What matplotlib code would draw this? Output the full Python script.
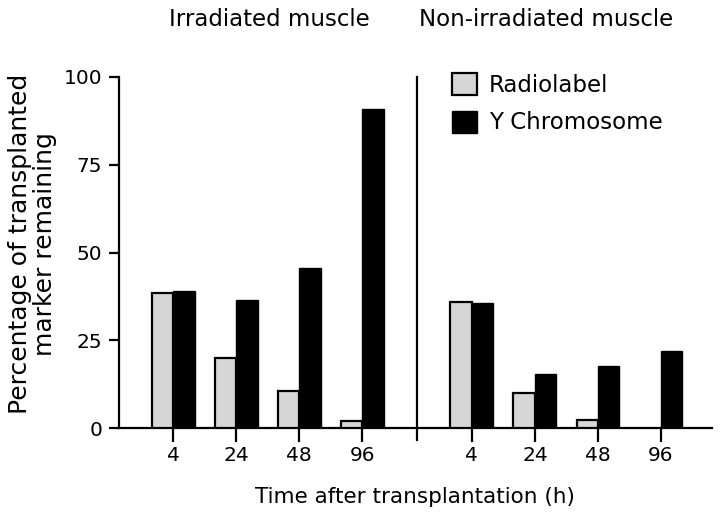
import matplotlib
matplotlib.use("Agg")
import matplotlib.pyplot as plt
import numpy as np
from matplotlib.patches import Patch

# ---- data ----
times = ["4", "24", "48", "96"]
irr_radiolabel = [38.5, 20.0, 10.5, 2.0]
irr_ychrom = [39.0, 36.5, 45.5, 90.8]
non_radiolabel = [35.8, 10.0, 2.2, 0.0]
non_ychrom = [35.5, 15.3, 17.6, 22.0]
yticks = [0, 25, 50, 75, 100]
panel_titles = ["Irradiated muscle", "Non-irradiated muscle"]
series_names = ["Radiolabel", "Y Chromosome"]
xlabel = "Time after transplantation (h)"
ylabel = "Percentage of transplanted\nmarker remaining"

plt.rcParams['font.family'] = ['DejaVu Sans']

fig = plt.figure(figsize=(7.2, 5.14), dpi=100)
ax = fig.add_axes([119/720, 1-428/514, (712-119)/720, (428-77)/514])

grey = '#d6d6d6'
w = 0.34
offset_right = 4.74
x_left = np.arange(len(times))
x_right = x_left + offset_right

for xs, rad, yc in [(x_left, irr_radiolabel, irr_ychrom), (x_right, non_radiolabel, non_ychrom)]:
    for xi, r in zip(xs, rad):
        if r > 0:
            ax.bar(xi - w/2, r, width=w, color=grey, edgecolor='black', linewidth=1.6, zorder=3)
    ax.bar(xs + w/2, yc, width=w, color='black', edgecolor='black', linewidth=1.0, zorder=3)

ax.set_xlim(-0.86, 8.55)
ax.set_ylim(0, 100)
ax.set_yticks(yticks)
ax.set_yticklabels([str(t) for t in yticks], fontsize=14.5)
ax.set_xticks(list(x_left) + list(x_right))
ax.set_xticklabels(times + times, fontsize=14.5)

for s in ['top', 'right']:
    ax.spines[s].set_visible(False)
for s in ['left', 'bottom']:
    ax.spines[s].set_linewidth(1.6)
ax.tick_params(axis='y', direction='out', length=7, width=1.6, pad=5)
ax.tick_params(axis='x', direction='out', length=10, width=1.6, pad=3)

# divider between panels
div_x = 3.87
ax.plot([div_x, div_x], [-3.5, 100], color='black', lw=1.6, clip_on=False, zorder=4)

fig.text(415/720, 1-497/514, xlabel, fontsize=15.5, ha='center', va='center')
fig.text(20/720, 1-244/514, ylabel.split("\n")[0], fontsize=18, ha='center', va='center', rotation=90)
fig.text(45/720, 1-244/514, ylabel.split("\n")[1], fontsize=18, ha='center', va='center', rotation=90)

fig.text(269/720, 1-20/514, panel_titles[0], fontsize=16.5, ha='center', va='center')
fig.text(546/720, 1-20/514, panel_titles[1], fontsize=16.5, ha='center', va='center')

handles = [Patch(facecolor=grey, edgecolor='black', linewidth=1.6),
           Patch(facecolor='black', edgecolor='black')]
ax.legend(handles, series_names, loc='upper left', bbox_to_anchor=(452/720, 1-73/514),
          bbox_transform=fig.transFigure, frameon=False, fontsize=16.5,
          handlelength=1.1, handleheight=1.1, labelspacing=0.6, handletextpad=0.5,
          borderpad=0, borderaxespad=0)

fig.savefig("out.png", dpi=100)
